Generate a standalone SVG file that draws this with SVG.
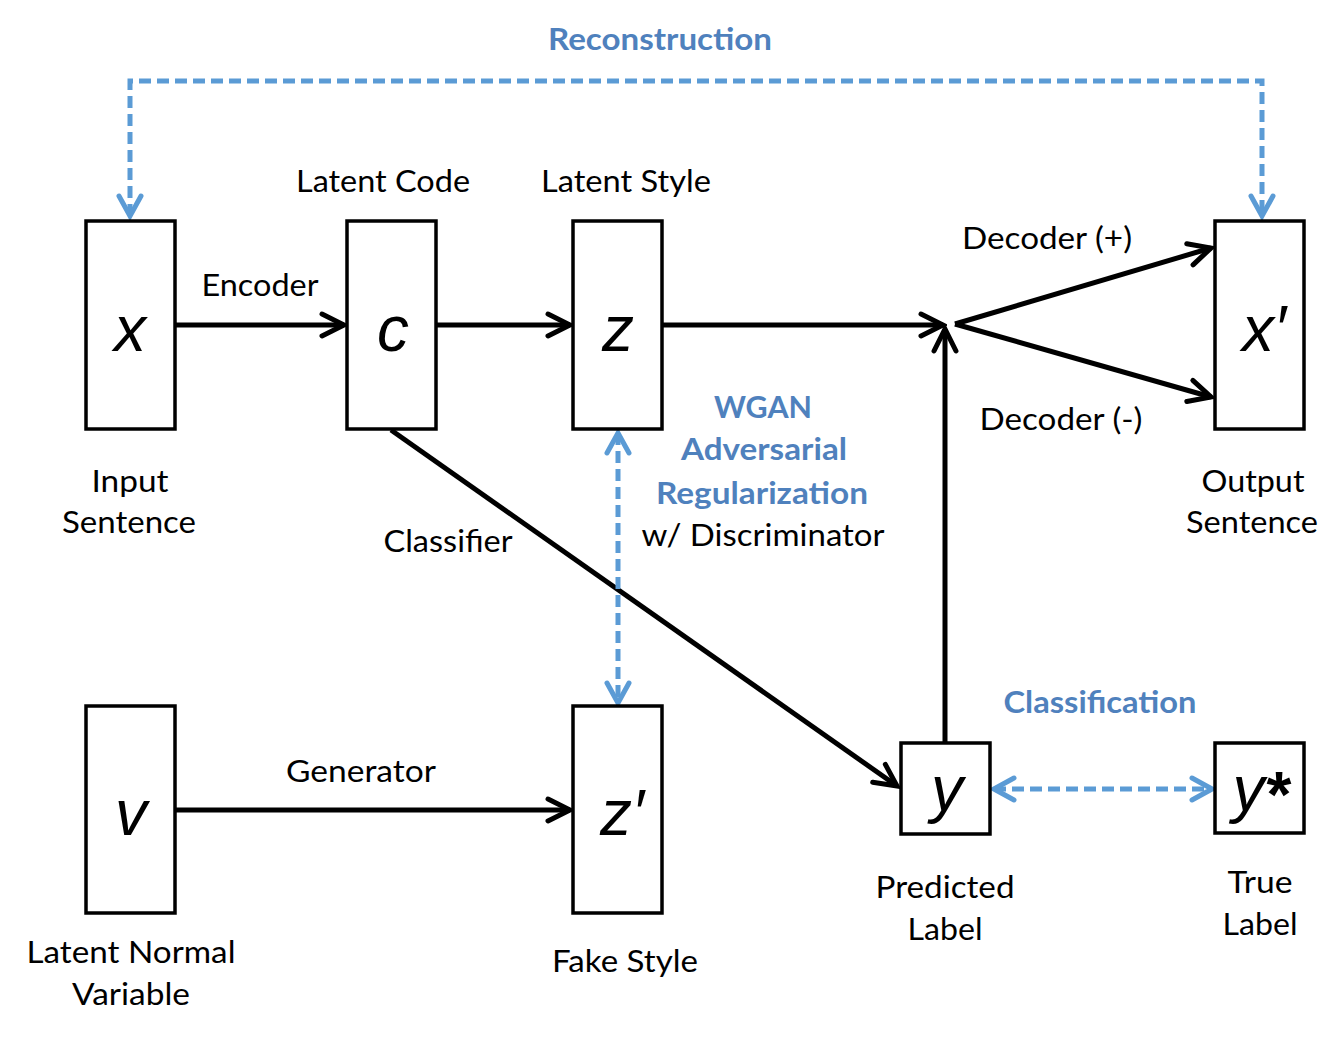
<svg xmlns="http://www.w3.org/2000/svg" width="1338" height="1045" viewBox="0 0 1338 1045">
<style>
.box{fill:#fff;stroke:#000;stroke-width:3.5}
.var{font-family:"Liberation Sans",Arial,sans-serif;font-style:italic;font-size:64px;fill:#000;text-anchor:middle}
.lbl{font-family:Lato,"Open Sans",sans-serif;font-size:30px;fill:#000;text-anchor:middle}
.blu{font-family:Lato,"Open Sans",sans-serif;font-size:30px;font-weight:bold;fill:#4F81BD;text-anchor:middle}
.arr{fill:none;stroke:#000;stroke-width:5}
.dsh{fill:none;stroke:#5B9BD5;stroke-width:5;stroke-dasharray:12 6}
</style>
<defs>
<marker id="ah" viewBox="-28 -15 32 30" refX="0" refY="0" markerWidth="32" markerHeight="30" markerUnits="userSpaceOnUse" orient="auto-start-reverse">
<path d="M-22,-11 L0,0 L-22,11" fill="none" stroke="#000" stroke-width="5" stroke-linecap="round" stroke-linejoin="miter"/>
</marker>
<marker id="bh" viewBox="-28 -15 32 30" refX="0" refY="0" markerWidth="32" markerHeight="30" markerUnits="userSpaceOnUse" orient="auto-start-reverse">
<path d="M-20,-11 L0,0 L-20,11" fill="none" stroke="#5B9BD5" stroke-width="5" stroke-linecap="round" stroke-linejoin="miter"/>
</marker>
</defs>

<g id="connectors">
<line class="arr" x1="175" y1="325" x2="344" y2="325" marker-end="url(#ah)"/>
<line class="arr" x1="436" y1="325" x2="570" y2="325" marker-end="url(#ah)"/>
<line class="arr" x1="662" y1="325" x2="943" y2="325" marker-end="url(#ah)"/>
<line class="arr" x1="945" y1="743" x2="945" y2="329" marker-end="url(#ah)"/>
<line class="arr" x1="955" y1="324" x2="1211" y2="248" marker-end="url(#ah)"/>
<line class="arr" x1="955" y1="324" x2="1211" y2="397" marker-end="url(#ah)"/>
<line class="arr" x1="391" y1="430" x2="897" y2="786" marker-end="url(#ah)"/>
<line class="arr" x1="175" y1="810" x2="570" y2="810" marker-end="url(#ah)"/>
<path class="dsh" d="M130,216 L130,81 L1262,81 L1262,216" marker-start="url(#bh)" marker-end="url(#bh)"/>
<line class="dsh" x1="618" y1="433" x2="618" y2="703" marker-start="url(#bh)" marker-end="url(#bh)"/>
<line class="dsh" x1="994" y1="789" x2="1212" y2="789" marker-start="url(#bh)" marker-end="url(#bh)"/>
</g>

<g id="node-x"><rect class="box" x="86" y="221" width="89" height="208"/><text class="var" x="130" y="351">x</text></g>
<g id="node-c"><rect class="box" x="347" y="221" width="89" height="208"/><text class="var" x="393" y="351">c</text></g>
<g id="node-z"><rect class="box" x="573" y="221" width="89" height="208"/><text class="var" x="618" y="351">z</text></g>
<g id="node-xp"><rect class="box" x="1215" y="221" width="89" height="208"/><text class="var" x="1264" y="351">x′</text></g>
<g id="node-v"><rect class="box" x="86" y="706" width="89" height="207"/><text class="var" x="131" y="835">v</text></g>
<g id="node-zp"><rect class="box" x="573" y="706" width="89" height="207"/><text class="var" x="622" y="835">z′</text></g>
<g id="node-y"><rect class="box" x="901" y="743" width="89" height="91"/><text class="var" x="947" y="811">y</text></g>
<g id="node-ystar"><rect class="box" x="1215" y="743" width="89" height="90"/><text class="var" x="1262" y="811">y<tspan font-style="normal" font-weight="bold" dx="2" dy="6">*</tspan></text></g>

<g id="labels">
<text class="blu" x="660" y="50" textLength="224" lengthAdjust="spacingAndGlyphs">Reconstruction</text>
<text class="lbl" x="383" y="192" textLength="174" lengthAdjust="spacingAndGlyphs">Latent Code</text>
<text class="lbl" x="626" y="192" textLength="170" lengthAdjust="spacingAndGlyphs">Latent Style</text>
<text class="lbl" x="260" y="296" textLength="117" lengthAdjust="spacingAndGlyphs">Encoder</text>
<text class="lbl" x="1047" y="249" textLength="170" lengthAdjust="spacingAndGlyphs">Decoder (+)</text>
<text class="lbl" x="1061" y="430" textLength="163" lengthAdjust="spacingAndGlyphs">Decoder (-)</text>
<text class="lbl" x="130" y="492" textLength="77" lengthAdjust="spacingAndGlyphs">Input</text>
<text class="lbl" x="129" y="533" textLength="134" lengthAdjust="spacingAndGlyphs">Sentence</text>
<text class="lbl" x="1253" y="492" textLength="103" lengthAdjust="spacingAndGlyphs">Output</text>
<text class="lbl" x="1252" y="533" textLength="132" lengthAdjust="spacingAndGlyphs">Sentence</text>
<text class="blu" x="763" y="418" textLength="98" lengthAdjust="spacingAndGlyphs">WGAN</text>
<text class="blu" x="764" y="460" textLength="166" lengthAdjust="spacingAndGlyphs">Adversarial</text>
<text class="blu" x="762" y="504" textLength="212" lengthAdjust="spacingAndGlyphs">Regularization</text>
<text class="lbl" x="763" y="546" textLength="243" lengthAdjust="spacingAndGlyphs">w/ Discriminator</text>
<text class="lbl" x="448" y="552" textLength="129" lengthAdjust="spacingAndGlyphs">Classifier</text>
<text class="blu" x="1100" y="713" textLength="193" lengthAdjust="spacingAndGlyphs">Classification</text>
<text class="lbl" x="361" y="782" textLength="150" lengthAdjust="spacingAndGlyphs">Generator</text>
<text class="lbl" x="131" y="963" textLength="209" lengthAdjust="spacingAndGlyphs">Latent Normal</text>
<text class="lbl" x="131" y="1005" textLength="118" lengthAdjust="spacingAndGlyphs">Variable</text>
<text class="lbl" x="625" y="972" textLength="146" lengthAdjust="spacingAndGlyphs">Fake Style</text>
<text class="lbl" x="945" y="898" textLength="139" lengthAdjust="spacingAndGlyphs">Predicted</text>
<text class="lbl" x="945" y="940" textLength="75" lengthAdjust="spacingAndGlyphs">Label</text>
<text class="lbl" x="1260" y="893" textLength="65" lengthAdjust="spacingAndGlyphs">True</text>
<text class="lbl" x="1260" y="935" textLength="75" lengthAdjust="spacingAndGlyphs">Label</text>
</g>
</svg>
